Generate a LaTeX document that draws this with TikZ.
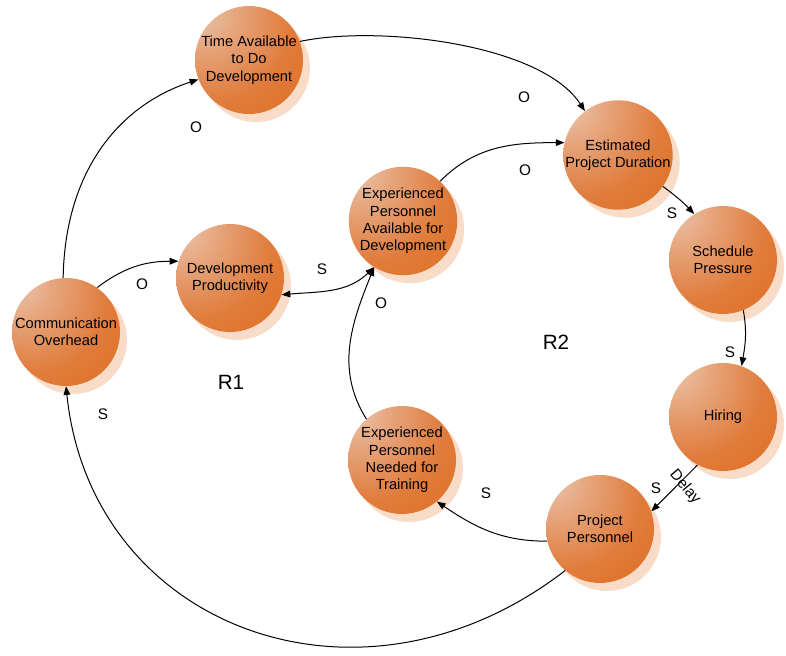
\documentclass[tikz,border=0pt]{standalone}
\usepackage{fontspec}
\setmainfont{Liberation Sans}
\usetikzlibrary{arrows.meta,shadows}
\definecolor{orbA}{HTML}{EBCAB4}
\definecolor{orbB}{HTML}{E6A67E}
\definecolor{orbC}{HTML}{E07C3C}
\definecolor{orbD}{HTML}{E06206}
\definecolor{shA}{HTML}{F9DCC8}
\definecolor{shB}{HTML}{FEF2EA}
\pgfdeclareradialshading{orbshade}{\pgfpoint{-25bp}{25bp}}{color(0bp)=(orbA); color(15bp)=(orbB); color(35bp)=(orbC); color(70bp)=(orbD); color(100bp)=(orbD)}
\pgfdeclareradialshading{shadeshade}{\pgfpoint{-25bp}{25bp}}{color(0bp)=(shA); color(62bp)=(shA); color(88bp)=(shB); color(100bp)=(shB)}
\begin{document}
\begin{tikzpicture}[x=0.75pt,y=-0.75pt,
  orb/.style={circle, minimum size=81pt, inner sep=0pt, align=center,
    font=\fontsize{11}{13}\selectfont, shading=orbshade,
    general shadow={shading=shadeshade, shadow xshift=5.25pt, shadow yshift=-6pt}},
  arr/.style={-{Triangle[length=6.5pt,width=5pt]}, line width=0.75pt},
  dblarr/.style={{Triangle[length=6.5pt,width=5pt]}-{Triangle[length=6.5pt,width=5pt]}, line width=0.75pt},
  lbl/.style={font=\fontsize{11.5}{13}\selectfont, inner sep=0pt},
  big/.style={font=\fontsize{15.5}{18}\selectfont, inner sep=0pt}]
\useasboundingbox (0,0) rectangle (786,656);
\fill[white] (0,0) rectangle (786,656);

% nodes
\node[orb] (TA)  at (249,60)  {Time Available\\to Do\\Development};
\node[orb] (EPD) at (618,155) {Estimated\\Project Duration};
\node[orb] (SP)  at (723,260) {Schedule\\Pressure};
\node[orb] (H)   at (723,417) {Hiring};
\node[orb] (PP)  at (600,529) {Project\\Personnel};
\node[orb] (EN)  at (402,460) {Experienced\\Personnel\\Needed for\\Training};
\node[orb] (EA)  at (403,221) {Experienced\\Personnel\\Available for\\Development};
\node[orb] (DP)  at (230,278) {Development\\Productivity};
\node[orb] (CO)  at (66,332)  {Communication\\Overhead};

% connectors
\draw[arr] (CO.93) .. controls (65,170) and (120,105) .. (TA.201);
\draw[arr] (TA.20) to[out=12,in=123,looseness=0.7] (EPD.127);
\draw[arr] (EA.47) to[out=45,in=180] (EPD.167);
\draw[arr] (EPD.-35) to[bend left=5] (SP.122);
\draw[arr] (SP.-68) to[out=-80,in=80] (H.70);
\draw[arr] (H.242) -- (PP.19);
\draw[arr] (PP.193) to[out=180,in=-34] (EN.-50);
\draw[arr] (EN.131) to[out=122,in=248] (EA.238);
\draw[dblarr] (DP.-18) to[out=5,in=224] (EA.238);
\draw[arr] (CO.55) to[out=37,in=180] (DP.162);
\draw[arr] (PP.230) .. controls (360,729) and (91,628) .. (CO.270);

% labels
\node[lbl] (l1) at (196,127) {O};
\node[lbl] (l2) at (524,97) {O};
\node[lbl] (l3) at (525,170) {O};
\node[lbl] (l4) at (672,213) {S};
\node[lbl] (l5) at (322,269) {S};
\node[lbl] (l6) at (142,284) {O};
\node[lbl] (l7) at (381,303) {O};
\node[lbl] (l8) at (730,352) {S};
\node[lbl] (l9) at (103,414) {S};
\node[lbl] (l10) at (486,493) {S};
\node[lbl] (l11) at (656,488) {S};
\node[lbl,rotate=-50] (l12) at (685,487) {Delay};
\node[big] (r1) at (231,382) {R1};
\node[big] (r2) at (556,342) {R2};
\end{tikzpicture}
\end{document}
